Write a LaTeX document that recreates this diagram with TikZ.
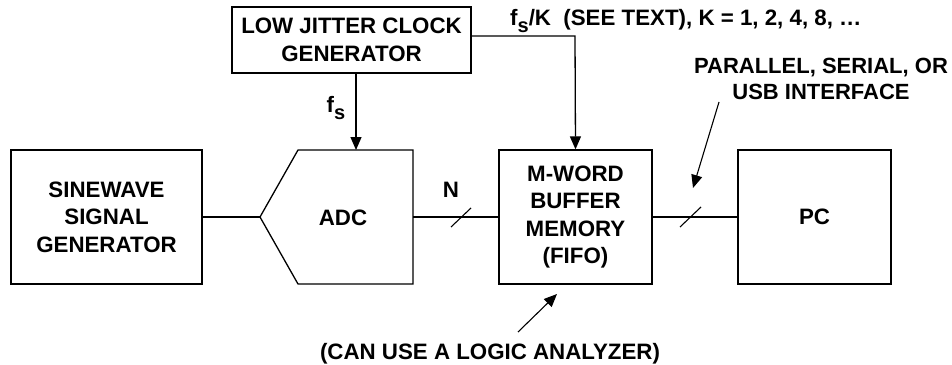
\documentclass[tikz,border=0pt]{standalone}
\usepackage{fontspec}
\setmainfont{Liberation Sans}
\usetikzlibrary{arrows.meta}
\newcommand{\subs}[1]{\raisebox{-7pt}{\fontsize{20}{20}\selectfont #1}}
\begin{document}
\begin{tikzpicture}[x=1pt,y=-1pt,
  every node/.style={font=\fontsize{22.3}{27.5}\selectfont\bfseries, align=center, inner sep=0pt},
  blk/.style={draw, line width=1.3pt},
  conn/.style={line width=1.3pt},
  arr/.style={line width=1.3pt, -{Triangle[length=13pt,width=11pt]}}]
\useasboundingbox (0,0) rectangle (952,364);
% boxes
\node[blk, minimum width=239pt, minimum height=66pt] (clk) at (351.5,40) {LOW JITTER CLOCK\\GENERATOR};
\node[blk, minimum width=191pt, minimum height=134pt] (sine) at (106.5,217) {SINEWAVE\\SIGNAL\\GENERATOR};
\node[blk, minimum width=153pt, minimum height=134pt] (buf) at (575.5,217) {M-WORD\\BUFFER\\MEMORY\\(FIFO)};
\node[blk, minimum width=153pt, minimum height=134pt] (pc) at (814.5,217) {PC};
% ADC
\coordinate (adcin) at (260,217);
\draw[blk, line join=miter] (298,150) -- (413,150) -- (413,284) -- (298,284) -- (adcin) -- cycle;
\coordinate (adctop) at (356,150);
\coordinate (adcout) at (413,217);
\node (adc) at (343,218) {ADC};
% connections
\draw[conn] (sine.east) -- (adcin);
\draw[conn] (adcout) -- (buf.west);
\draw[conn] (buf.east) -- (pc.west);
\draw[arr] (clk.south -| adctop) -- (adctop);
\coordinate (corner) at (575,36);
\draw[arr] (clk.east |- corner) -- (corner) -- (buf.north);
% bus slashes
\coordinate (s1a) at (451,227); \coordinate (s1b) at (471,208);
\draw[conn, line width=1.1pt] (s1a) -- (s1b);
\coordinate (s2a) at (680,227); \coordinate (s2b) at (701,207);
\draw[conn, line width=1.1pt] (s2a) -- (s2b);
% labels
\node (n) at (451,190) {N};
\node (fs) at (336,108) {f\subs{s}};
\node[anchor=west] (fsk) at (510,21) {f\subs{s}/K\ \ (SEE TEXT), K = 1, 2, 4, 8, …};
\node[font=\fontsize{22}{25.5}\selectfont\bfseries] (iface) at (821,79) {PARALLEL, SERIAL, OR\\USB INTERFACE};
\node (logic) at (490,354) {(CAN USE A LOGIC ANALYZER)};
% pointer arrows
\coordinate (p1s) at (719,102); \coordinate (p1e) at (693,188);
\draw[arr, line width=1.1pt] (p1s) -- (p1e);
\coordinate (p2s) at (518,332); \coordinate (p2e) at (557,294);
\draw[arr, line width=1.1pt] (p2s) -- (p2e);
\end{tikzpicture}
\end{document}
